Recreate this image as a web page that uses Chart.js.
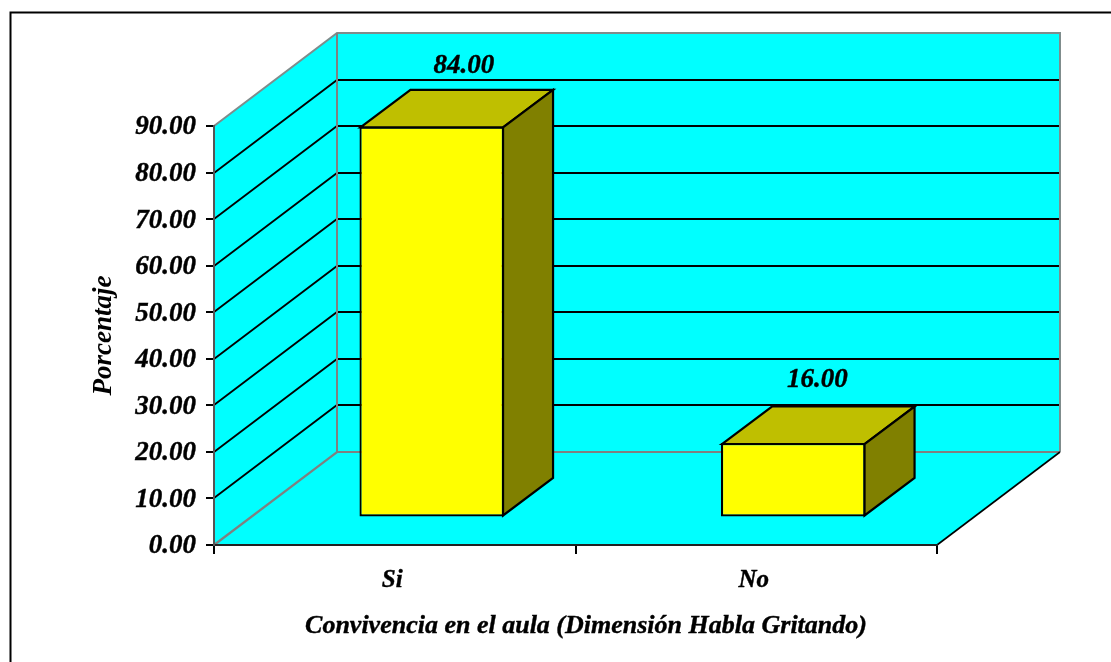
<!DOCTYPE html>
<html>
<head>
<meta charset="utf-8">
<style>html,body{margin:0;padding:0;background:#fff;overflow:hidden}canvas{display:block}</style>
<script src="https://cdn.jsdelivr.net/npm/chart.js@4"></script>
</head>
<body>
<canvas id="c" width="1111" height="662"></canvas>
<script>
const categories = ["Si", "No"];
const porcentajes = [84.00, 16.00];
const yTickValues = [0, 10, 20, 30, 40, 50, 60, 70, 80, 90];
const xAxisTitle = "Convivencia en el aula (Dimensión Habla Gritando)";
const yAxisTitle = "Porcentaje";

const FONT = '"Liberation Serif","Times New Roman",serif';
const WALL = {dx: 123, dy: 93};
const BAR_SHIFT = {dx: 37, dy: 27.5};
const BAR_DEPTH = {dx: 50, dy: 37.5};
const LABEL_SHIFT = [{dx: 32, dy: 60.5}, {dx: 24, dy: 63}];

function poly(ctx, pts, fill, stroke, lw) {
  ctx.beginPath();
  pts.forEach((p, i) => i ? ctx.lineTo(p[0], p[1]) : ctx.moveTo(p[0], p[1]));
  ctx.closePath();
  if (fill) { ctx.fillStyle = fill; ctx.fill(); }
  if (stroke) { ctx.strokeStyle = stroke; ctx.lineWidth = lw; ctx.lineJoin = 'miter'; ctx.stroke(); }
}
function line(ctx, pts, color, lw) {
  ctx.beginPath();
  pts.forEach((p, i) => i ? ctx.lineTo(p[0], p[1]) : ctx.moveTo(p[0], p[1]));
  ctx.strokeStyle = color; ctx.lineWidth = lw; ctx.stroke();
}
function boldText(ctx, text, x, y, size) {
  ctx.fillStyle = '#000';
  ctx.strokeStyle = '#000';
  ctx.lineWidth = 0.4;
  ctx.font = 'italic bold ' + size + 'px ' + FONT;
  ctx.textAlign = 'center';
  ctx.textBaseline = 'middle';
  ctx.fillText(text, x, y);
  ctx.strokeText(text, x, y);
}

const box3d = {
  id: 'box3d',
  beforeDraw(chart) {
    const {ctx, chartArea: a, scales: {y}} = chart;
    const {dx, dy} = WALL;
    const y0 = y.getPixelForValue(0), yT = y.getPixelForValue(yTickValues[yTickValues.length - 1]);
    ctx.save();
    ctx.fillStyle = '#fff';
    ctx.fillRect(0, 0, chart.width, chart.height);
    line(ctx, [[10.5, chart.height], [10.5, 12.5], [chart.width, 12.5]], '#000', 2);
    // walls and floor
    poly(ctx, [[a.left, yT], [a.left + dx, yT - dy], [a.left + dx, y0 - dy], [a.left, y0]], '#00ffff');
    poly(ctx, [[a.left + dx, yT - dy], [a.right + dx, yT - dy], [a.right + dx, y0 - dy], [a.left + dx, y0 - dy]], '#00ffff');
    poly(ctx, [[a.left, y0], [a.right, y0], [a.right + dx, y0 - dy], [a.left + dx, y0 - dy]], '#00ffff');
    // grid lines
    yTickValues.slice(1, -1).forEach(v => {
      const py = Math.round(y.getPixelForValue(v));
      line(ctx, [[a.left, py], [a.left + dx, py - dy], [a.right + dx, py - dy]], '#000', 1.8);
    });
    // wall edges
    const g = '#7f8c8c';
    line(ctx, [[a.left, yT], [a.left + dx, yT - dy], [a.right + dx, yT - dy], [a.right + dx, y0 - dy]], g, 2);
    line(ctx, [[a.left + dx, yT - dy], [a.left + dx, y0 - dy]], '#808080', 2);
    line(ctx, [[a.left, y0], [a.left + dx, y0 - dy], [a.right + dx, y0 - dy]], '#808080', 2.2);
    line(ctx, [[a.right, y0], [a.right + dx, y0 - dy]], '#000', 1.6);
    ctx.restore();
  },
  beforeDatasetDraw(chart) {
    chart.ctx.save();
    chart.ctx.translate(BAR_SHIFT.dx, -BAR_SHIFT.dy);
  },
  afterDatasetDraw(chart, args) {
    const ctx = chart.ctx;
    ctx.restore();
    ctx.save();
    args.meta.data.forEach((el, i) => {
      const l = el.x - el.width / 2 + BAR_SHIFT.dx, r = el.x + el.width / 2 + BAR_SHIFT.dx;
      const t = el.y - BAR_SHIFT.dy, b = el.base - BAR_SHIFT.dy;
      const {dx, dy} = BAR_DEPTH;
      poly(ctx, [[l + 1, t + 1], [l + dx + 1, t - dy + 1], [r + dx - 1, t - dy + 1], [r - 1, t + 1]], '#bfbf00', '#000', 2.2);
      poly(ctx, [[r - 1, t + 1], [r + dx - 1, t - dy + 1], [r + dx - 1, b - dy - 1], [r - 1, b - 1]], '#808000', '#000', 2.2);
      boldText(ctx, porcentajes[i].toFixed(2), el.x + BAR_SHIFT.dx + LABEL_SHIFT[i].dx, t - LABEL_SHIFT[i].dy, 27);
    });
    ctx.restore();
  },
  afterDraw(chart) {
    const ctx = chart.ctx;
    ctx.save();
    boldText(ctx, xAxisTitle, 586, 626, 26);
    ctx.restore();
  }
};

new Chart(document.getElementById('c'), {
  type: 'bar',
  data: {
    labels: categories,
    datasets: [{
      data: porcentajes,
      backgroundColor: '#ffff00',
      borderColor: '#000',
      borderWidth: 2.2,
      borderSkipped: false,
      barPercentage: 0.4,
      categoryPercentage: 1,
      clip: false
    }]
  },
  plugins: [box3d],
  options: {
    responsive: false,
    animation: false,
    events: [],
    layout: {padding: {top: 126, right: 174, left: 0, bottom: 0}},
    plugins: {legend: {display: false}, tooltip: {enabled: false}, title: {display: false}},
    scales: {
      x: {
        type: 'category',
        offset: true,
        grid: {display: true, offset: true, drawOnChartArea: false, color: '#000', lineWidth: 2, tickLength: 9},
        border: {display: true, color: '#222', width: 2},
        ticks: {color: '#000', padding: 12, labelOffset: -2.5, maxRotation: 0, textStrokeColor: '#000', textStrokeWidth: 0.4,
                font: {family: FONT, size: 25, weight: 'bold', style: 'italic'}},
        afterFit(s) { s.height = 117; }
      },
      y: {
        min: 0,
        max: 90,
        afterBuildTicks(s) { s.ticks = yTickValues.map(v => ({value: v})); },
        grid: {display: true, drawOnChartArea: false, color: '#000', lineWidth: 2, tickLength: 8},
        border: {display: true, color: '#555', width: 2},
        ticks: {color: '#000', padding: 10, labelOffset: 1.5, textStrokeColor: '#000', textStrokeWidth: 0.4,
                callback: v => Number(v).toFixed(2),
                font: {family: FONT, size: 27, weight: 'bold', style: 'italic'}},
        title: {display: true, text: yAxisTitle, color: '#000', padding: {top: 88, bottom: 0},
                font: {family: FONT, size: 27, weight: 'bold', style: 'italic'}},
        afterFit(s) { s.width = 214; }
      }
    }
  }
});
</script>
</body>
</html>
